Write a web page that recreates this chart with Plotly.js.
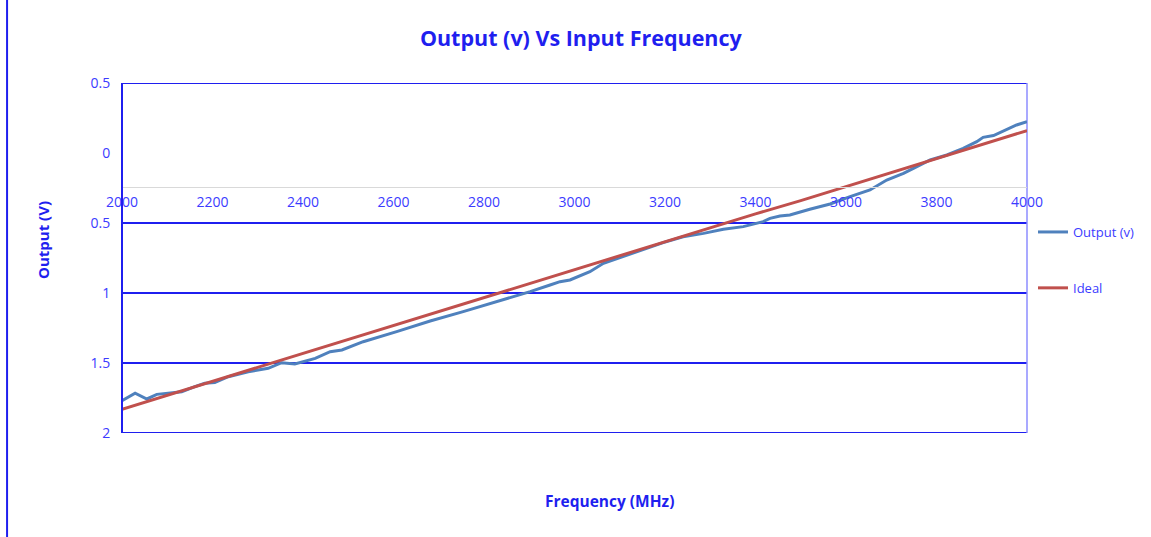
<!DOCTYPE html>
<html>
<head>
<meta charset="utf-8">
<script src="https://cdn.plot.ly/plotly-3.0.1.min.js"></script>
<style>html,body{margin:0;padding:0;background:#fff;}#chart{width:1151px;height:537px;}</style>
</head>
<body>
<div id="chart"></div>
<script>
// Output (v) series
const outputFreq = [2000,2029,2055,2077,2102,2132,2161,2183,2205,2235,2279,2323,2353,2382,2427,2460,2486,2533,2607,2681,2754,2828,2872,2902,2946,2968,2990,3034,3064,3108,3152,3196,3240,3285,3329,3373,3417,3432,3454,3476,3520,3565,3609,3653,3690,3727,3749,3786,3823,3859,3889,3903,3926,3948,3977,4000];
const outputVals = [1.77,1.716,1.757,1.724,1.716,1.705,1.669,1.645,1.64,1.598,1.562,1.538,1.498,1.507,1.467,1.419,1.407,1.348,1.276,1.2,1.133,1.062,1.021,0.99,0.943,0.919,0.907,0.848,0.788,0.74,0.693,0.64,0.598,0.574,0.545,0.526,0.49,0.467,0.45,0.443,0.402,0.364,0.312,0.264,0.193,0.145,0.11,0.05,0.014,-0.033,-0.081,-0.112,-0.125,-0.158,-0.2,-0.224];
// Ideal series
const idealFreq = [2000,2100,2200,2300,2400,2500,2600,2700,2800,2900,3000,3100,3200,3300,3400,3500,3600,3700,3800,3900,4000];
const idealVals = [1.83,1.73,1.63,1.53,1.43,1.335,1.235,1.135,1.035,0.935,0.835,0.735,0.635,0.535,0.435,0.34,0.24,0.14,0.04,-0.06,-0.16];
// Axis ticks
const xTicks = [2000,2200,2400,2600,2800,3000,3200,3400,3600,3800,4000];
const yTickVals = [-0.5,0,0.5,1,1.5,2];
const yTickText = ['0.5','0','0.5','1','1.5','2'];
const gridVals = [-0.5,0.5,1,1.5,2];
const xCross = 0.24;

const BLUE = '#1f1fef';
const LBLUE = '#3b3bff';
const FONT = 'Open Sans, sans-serif';

const traces = [
  {x: outputFreq, y: outputVals, type:'scatter', mode:'lines', name:'Output (v)', legendgroup:'a',
   line:{color:'#4f81bd', width:3}},
  {x: idealFreq, y: idealVals, type:'scatter', mode:'lines', name:'Ideal', legendgroup:'b',
   line:{color:'#c0504d', width:3}}
];

const yMin = -0.5, yMax = 2;
const plotTop = 83, plotBottom = 433;
const xPos = (plotBottom - (plotTop + (xCross - yMin) / (yMax - yMin) * (plotBottom - plotTop))) / (plotBottom - plotTop);

const shapes = gridVals.map(v => ({type:'line', xref:'paper', yref:'y', x0:0, x1:1, y0:v, y1:v,
  line:{color:BLUE, width:2}, layer:'below'}));
shapes.push({type:'line', xref:'paper', yref:'paper', x0:1, x1:1, y0:0, y1:1, line:{color:'#8c8cff', width:1.5}, layer:'below'});
shapes.push({type:'line', xref:'paper', yref:'paper', x0:0, x1:0, y0:0, y1:1, line:{color:BLUE, width:2}, layer:'above'});
shapes.push({type:'line', xref:'paper', yref:'paper', x0:-0.127, x1:-0.127, y0:-0.3, y1:1.24, line:{color:BLUE, width:2}});

const layout = {
  width:1151, height:537,
  margin:{l:122, r:124, t:83, b:104},
  paper_bgcolor:'#fff', plot_bgcolor:'rgba(0,0,0,0)',
  font:{family:FONT, color:LBLUE, size:14},
  title:{text:'<b>Output (v) Vs Input Frequency</b>', font:{family:FONT, size:21.5, color:BLUE},
         xref:'paper', x:0.507, xanchor:'center', yref:'container', y:1-38/537, yanchor:'middle'},
  xaxis:{range:[2000,4000], tickvals:xTicks, ticktext:xTicks.map(String), anchor:'free', position:xPos,
         showline:true, linecolor:'#d9d9d9', linewidth:1.5, showgrid:false, zeroline:false,
         ticks:'outside', ticklen:2, tickcolor:'rgba(0,0,0,0)', tickfont:{size:14, color:LBLUE, family:FONT}},
  yaxis:{range:[yMax, yMin], autorange:false, tickvals:yTickVals, ticktext:yTickText,
         showgrid:false, zeroline:false, showline:false,
         ticks:'outside', ticklen:8, tickcolor:'rgba(0,0,0,0)', tickfont:{size:14, color:LBLUE, family:FONT}},
  legend:{xref:'container', yref:'container', x:1033/1151, xanchor:'left', y:1-217/537, yanchor:'top', tracegroupgap:36,
          font:{size:13, color:LBLUE, family:FONT}, bgcolor:'rgba(0,0,0,0)'},
  showlegend:true,
  shapes:shapes,
  annotations:[
    {text:'<b>Frequency (MHz)</b>', xref:'paper', yref:'paper', x:(609-122)/905, y:(433-501)/350,
     xanchor:'center', yanchor:'middle', showarrow:false, font:{size:15.5, color:BLUE, family:FONT}},
    {text:'<b>Output (V)</b>', xref:'paper', yref:'paper', x:(43-122)/905, y:(433-240)/350,
     xanchor:'center', yanchor:'middle', textangle:-90, showarrow:false, font:{size:15, color:BLUE, family:FONT}}
  ]
};

Plotly.newPlot('chart', traces, layout, {displayModeBar:false, staticPlot:true});
</script>
</body>
</html>
